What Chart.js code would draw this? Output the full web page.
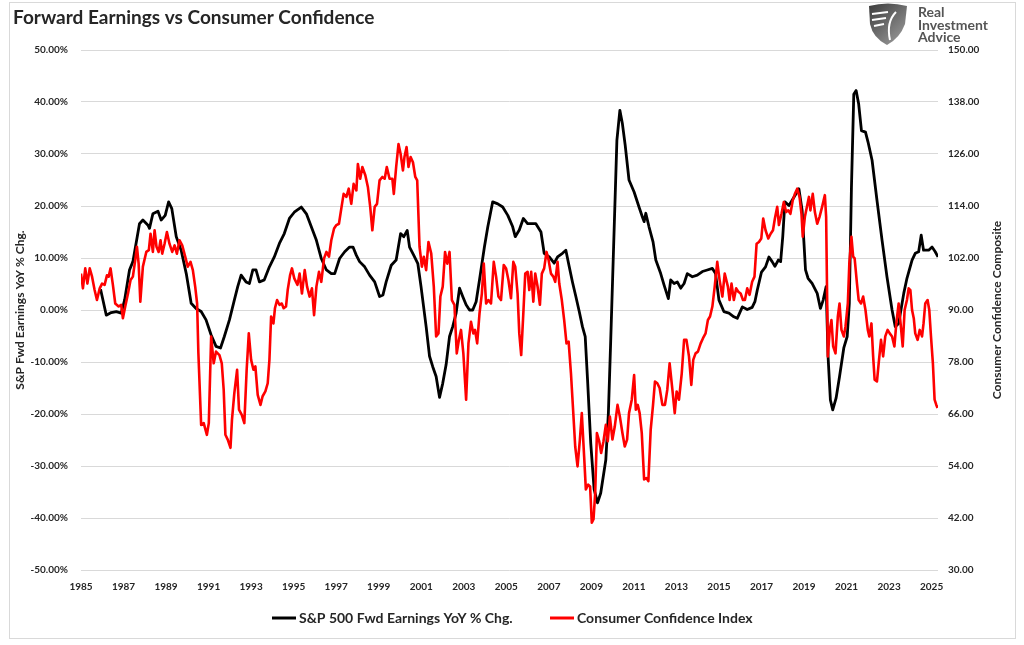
<!DOCTYPE html>
<html>
<head>
<meta charset="utf-8">
<title>Forward Earnings vs Consumer Confidence</title>
<script src="https://cdn.jsdelivr.net/npm/chart.js@4.4.1/dist/chart.umd.min.js"></script>
<style>
  html, body { margin: 0; padding: 0; background: #fff; }
  #wrap { width: 1024px; height: 645px; }
</style>
</head>
<body>
<div id="wrap"><canvas id="chart" width="1024" height="645"></canvas></div>
<script>
// S&P 500 forward earnings, YoY % change (left axis)
const earnYears = [1985.92,1986.19,1986.42,1986.66,1986.89,1987.05,1987.28,1987.44,1987.75,1987.91,1988.15,1988.22,1988.38,1988.62,1988.77,1988.96,1989.12,1989.27,1989.48,1989.71,1989.95,1990.18,1990.41,1990.65,1990.88,1991.12,1991.35,1991.56,1991.74,1991.98,1992.21,1992.37,1992.53,1992.76,1992.92,1993.08,1993.23,1993.39,1993.62,1993.86,1994.09,1994.33,1994.56,1994.8,1995.03,1995.36,1995.6,1995.83,1996.07,1996.3,1996.54,1996.77,1996.93,1997.16,1997.4,1997.63,1997.79,1997.95,1998.1,1998.34,1998.57,1998.81,1999.04,1999.2,1999.35,1999.59,1999.82,2000.03,2000.18,2000.34,2000.45,2000.65,2000.84,2000.99,2001.23,2001.39,2001.54,2001.7,2001.86,2002.01,2002.17,2002.33,2002.48,2002.64,2002.8,2002.95,2003.11,2003.27,2003.42,2003.58,2003.74,2003.97,2004.13,2004.36,2004.6,2004.83,2005.07,2005.3,2005.42,2005.61,2005.8,2006.0,2006.39,2006.63,2006.78,2007.02,2007.25,2007.41,2007.64,2007.8,2007.96,2008.11,2008.27,2008.43,2008.58,2008.71,2008.82,2008.97,2009.13,2009.29,2009.44,2009.68,2009.8,2009.91,2010.07,2010.2,2010.34,2010.46,2010.59,2010.77,2011.01,2011.24,2011.4,2011.48,2011.56,2011.71,2011.9,2012.03,2012.26,2012.42,2012.62,2012.73,2012.89,2013.04,2013.2,2013.36,2013.51,2013.75,2013.98,2014.22,2014.45,2014.69,2014.84,2015.0,2015.23,2015.47,2015.7,2015.86,2016.1,2016.33,2016.56,2016.69,2016.8,2017.0,2017.19,2017.35,2017.5,2017.63,2017.79,2017.9,2018.0,2018.1,2018.29,2018.44,2018.63,2018.76,2018.91,2018.99,2019.07,2019.19,2019.38,2019.62,2019.77,2019.9,2020.04,2020.13,2020.24,2020.35,2020.51,2020.67,2020.87,2021.03,2021.13,2021.23,2021.34,2021.45,2021.57,2021.7,2021.89,2022.01,2022.2,2022.43,2022.67,2022.9,2023.14,2023.29,2023.45,2023.69,2023.84,2024.08,2024.23,2024.39,2024.51,2024.62,2024.86,2025.02,2025.17,2025.3];
const earnValues = [4.0,-1.0,-0.5,-0.3,-0.6,1.9,7.7,9.3,16.6,17.3,16.3,15.7,18.5,19.0,17.3,18.2,20.8,19.5,14.1,11.5,7.0,1.3,0.3,-0.3,-1.9,-4.8,-7.0,-7.3,-5.1,-1.9,1.9,4.5,6.7,5.4,5.1,7.7,7.7,5.4,5.8,8.3,10.2,12.8,14.7,17.6,18.8,19.8,18.5,16.0,13.4,9.9,7.7,7.0,7.0,9.9,11.2,12.1,12.1,10.5,9.3,8.3,6.7,5.4,2.6,2.9,5.4,8.6,9.6,14.7,14.1,15.3,12.1,10.5,8.9,4.5,-3.2,-8.9,-10.9,-12.8,-16.8,-14.1,-10.5,-5.1,-3.2,-0.6,4.2,2.6,1.0,0.0,0.0,1.6,5.8,12.1,16.0,20.8,20.4,19.8,18.2,16.0,14.1,15.4,17.6,16.6,16.6,15.0,10.9,10.2,9.0,10.2,10.9,11.5,8.3,5.4,2.6,-0.3,-3.2,-5.1,-13.4,-25.6,-34.5,-37.1,-35.2,-28.8,-19.8,-5.8,15.4,32.6,38.4,35.8,31.7,25.0,22.7,19.8,17.9,17.0,18.6,16.0,13.1,9.6,7.0,4.8,2.2,5.8,5.1,5.4,4.2,5.1,7.0,6.4,6.7,7.4,7.7,8.0,7.0,1.9,-0.3,-0.6,-1.3,-1.6,0.6,0.1,0.5,1.6,3.8,7.3,8.3,10.2,9.3,8.4,9.6,9.3,14.1,20.8,20.1,21.1,22.4,23.3,19.2,13.4,7.7,6.1,5.1,3.2,0.3,1.9,4.5,-8.9,-17.3,-19.2,-16.9,-12.8,-7.3,-5.1,1.3,23.6,41.5,42.2,39.6,34.5,34.2,32.3,28.8,21.1,13.4,6.4,0.0,-3.2,-2.6,3.2,6.1,9.6,10.9,11.2,14.4,11.5,11.5,12.1,11.2,10.2];

// Consumer confidence composite (right axis)
const confYears = [1985.0,1985.09,1985.2,1985.3,1985.41,1985.52,1985.64,1985.75,1985.88,1985.99,1986.11,1986.22,1986.3,1986.39,1986.5,1986.61,1986.77,1986.89,1986.97,1987.08,1987.21,1987.33,1987.44,1987.55,1987.63,1987.71,1987.79,1987.91,1988.07,1988.19,1988.27,1988.38,1988.46,1988.55,1988.65,1988.74,1988.82,1988.93,1989.04,1989.16,1989.29,1989.4,1989.51,1989.63,1989.76,1989.9,1990.02,1990.15,1990.26,1990.37,1990.46,1990.52,1990.65,1990.77,1990.92,1991.01,1991.12,1991.24,1991.35,1991.51,1991.62,1991.71,1991.79,1991.9,1992.03,1992.1,1992.21,1992.34,1992.43,1992.56,1992.68,1992.79,1992.89,1993.0,1993.11,1993.2,1993.31,1993.44,1993.54,1993.67,1993.78,1993.86,1993.94,1994.05,1994.12,1994.22,1994.33,1994.44,1994.53,1994.64,1994.72,1994.83,1994.92,1995.03,1995.18,1995.28,1995.39,1995.52,1995.63,1995.75,1995.86,1995.96,1996.07,1996.19,1996.3,1996.43,1996.54,1996.66,1996.77,1996.9,1997.01,1997.13,1997.24,1997.35,1997.48,1997.59,1997.71,1997.82,1997.95,1998.02,1998.13,1998.23,1998.37,1998.49,1998.6,1998.7,1998.81,1998.92,1999.04,1999.17,1999.28,1999.38,1999.51,1999.64,1999.71,1999.82,1999.93,2000.03,2000.14,2000.21,2000.31,2000.4,2000.5,2000.61,2000.72,2000.81,2000.92,2001.03,2001.12,2001.23,2001.34,2001.47,2001.59,2001.7,2001.81,2001.9,2002.01,2002.12,2002.22,2002.33,2002.44,2002.56,2002.67,2002.77,2002.87,2002.98,2003.11,2003.22,2003.34,2003.45,2003.53,2003.63,2003.74,2003.85,2003.94,2004.05,2004.16,2004.28,2004.41,2004.52,2004.63,2004.75,2004.88,2004.99,2005.1,2005.22,2005.33,2005.42,2005.53,2005.61,2005.7,2005.8,2005.89,2006.0,2006.08,2006.17,2006.27,2006.36,2006.47,2006.58,2006.67,2006.78,2006.89,2006.99,2007.1,2007.21,2007.3,2007.41,2007.49,2007.61,2007.72,2007.83,2007.93,2008.04,2008.14,2008.24,2008.35,2008.46,2008.55,2008.66,2008.74,2008.85,2008.94,2009.02,2009.1,2009.18,2009.26,2009.37,2009.46,2009.57,2009.68,2009.77,2009.87,2009.99,2010.1,2010.23,2010.34,2010.46,2010.57,2010.68,2010.77,2010.9,2011.01,2011.09,2011.18,2011.27,2011.37,2011.48,2011.59,2011.68,2011.79,2011.9,2011.99,2012.1,2012.21,2012.34,2012.46,2012.57,2012.68,2012.81,2012.92,2013.01,2013.12,2013.25,2013.36,2013.47,2013.59,2013.7,2013.79,2013.9,2014.01,2014.14,2014.25,2014.37,2014.48,2014.58,2014.69,2014.8,2014.92,2015.03,2015.16,2015.27,2015.42,2015.5,2015.59,2015.7,2015.81,2015.91,2016.02,2016.13,2016.22,2016.33,2016.44,2016.56,2016.67,2016.77,2016.88,2016.99,2017.08,2017.19,2017.32,2017.43,2017.54,2017.63,2017.74,2017.82,2017.94,2018.05,2018.16,2018.26,2018.36,2018.47,2018.57,2018.68,2018.79,2018.88,2018.94,2019.04,2019.12,2019.23,2019.3,2019.41,2019.51,2019.62,2019.73,2019.85,2019.98,2020.04,2020.12,2020.21,2020.29,2020.37,2020.48,2020.59,2020.67,2020.76,2020.87,2020.95,2021.06,2021.13,2021.23,2021.31,2021.38,2021.49,2021.57,2021.68,2021.78,2021.89,2022.0,2022.07,2022.17,2022.25,2022.32,2022.43,2022.51,2022.62,2022.72,2022.82,2022.93,2023.03,2023.14,2023.25,2023.34,2023.45,2023.54,2023.64,2023.73,2023.84,2023.92,2024.0,2024.08,2024.16,2024.23,2024.34,2024.44,2024.55,2024.62,2024.7,2024.81,2024.89,2024.97,2025.06,2025.14,2025.22,2025.28];
const confValues = [98.4,95.0,99.6,96.1,99.6,97.7,94.6,92.3,95.0,96.1,95.8,98.0,97.7,99.6,95.8,91.5,90.8,91.2,88.1,90.8,93.8,96.9,97.7,101.5,104.6,100.7,91.9,100.0,103.4,103.8,107.6,103.4,108.4,104.6,103.4,106.1,103.0,105.3,108.0,105.3,103.4,104.9,103.0,106.1,104.9,102.3,100.0,101.1,99.2,95.4,91.5,80.0,63.5,63.9,61.2,63.9,83.9,77.7,80.4,79.6,77.7,71.6,61.2,60.1,58.2,64.7,70.8,76.2,67.0,65.8,63.9,76.2,84.6,78.5,76.2,77.0,70.4,68.1,70.1,71.2,73.1,78.5,88.5,86.9,90.4,92.3,91.2,91.5,90.4,90.8,94.6,98.0,99.6,97.3,95.8,98.4,93.8,99.2,95.4,93.1,95.0,88.8,95.4,98.8,96.5,101.9,103.4,102.3,106.1,108.8,109.6,109.9,113.4,116.8,116.1,118.0,114.5,119.1,117.6,123.7,120.3,123.0,121.1,118.4,113.8,108.4,113.8,114.5,119.9,120.7,120.3,123.0,120.3,120.3,116.8,123.0,128.3,126.0,122.2,125.3,127.6,123.0,125.3,124.1,120.7,119.9,104.6,100.0,102.3,99.2,105.7,103.0,95.4,83.9,84.6,93.1,95.4,103.4,100.7,103.4,92.3,91.2,80.0,83.1,85.4,80.0,69.3,82.3,87.3,84.6,85.4,82.3,89.2,93.8,100.7,91.5,92.3,91.5,101.1,97.7,93.1,92.3,100.4,99.6,96.9,92.7,101.1,100.0,93.8,84.6,79.6,89.2,98.4,98.8,94.6,98.8,91.9,98.4,95.4,91.2,98.4,99.6,103.4,101.5,98.4,97.7,96.5,101.1,96.1,92.3,87.7,82.3,82.7,75.4,67.0,58.5,53.9,60.1,66.2,56.2,48.6,49.7,49.3,40.9,41.7,47.8,61.6,59.7,57.0,59.7,63.5,59.7,65.4,60.1,63.1,68.1,65.4,61.6,58.5,60.1,66.2,69.3,75.0,67.0,68.1,66.2,61.6,50.9,51.2,50.5,62.4,68.1,73.5,73.1,72.0,68.1,68.1,71.6,77.7,71.6,66.2,71.2,69.3,75.4,83.1,83.1,79.3,72.7,78.5,80.0,80.4,82.3,83.5,84.6,87.7,88.5,90.8,95.4,101.1,96.9,93.1,98.4,95.4,92.3,96.1,92.3,95.0,94.2,93.8,92.3,92.3,95.0,93.5,96.5,97.7,105.3,105.7,106.5,111.1,108.4,106.5,107.6,108.4,111.1,113.8,109.6,112.2,114.9,112.6,113.0,112.2,115.3,116.8,118.0,116.1,112.2,106.9,111.5,113.4,116.1,113.0,116.8,112.6,109.9,111.5,113.8,116.5,111.5,79.3,85.4,87.7,81.6,80.0,88.5,91.5,85.4,83.9,86.2,91.5,100.7,106.9,102.3,101.9,96.1,92.3,91.5,93.1,90.0,85.4,83.9,86.9,79.3,73.9,73.5,77.7,83.1,79.3,83.9,85.4,84.6,83.9,81.6,86.9,91.5,86.9,81.6,90.0,92.3,95.0,94.6,90.0,88.1,84.6,83.1,85.4,83.9,86.9,91.5,92.3,90.0,83.9,77.7,69.3,68.1,67.4];

// x-axis labels every two years
const yearTicks = [1985,1987,1989,1991,1993,1995,1997,1999,2001,2003,2005,2007,2009,2011,2013,2015,2017,2019,2021,2023,2025];

const FONT = 'Lato, "Open Sans", sans-serif';
const INK = '#262626';

const toPoints = (xs, ys) => xs.map((x, i) => ({ x: x, y: ys[i] }));

// title, logo, axis titles, legend and frame drawn straight onto the canvas
const decor = {
  id: 'decor',
  beforeDraw(chart) {
    const ctx = chart.ctx;
    ctx.save();
    ctx.fillStyle = '#fff';
    ctx.fillRect(0, 0, chart.width, chart.height);
    ctx.strokeStyle = '#d9d9d9';
    ctx.lineWidth = 1;
    ctx.strokeRect(9.5, 2.5, 1006, 636);
    ctx.restore();
  },
  afterDraw(chart) {
    const ctx = chart.ctx;
    ctx.save();

    // title
    ctx.fillStyle = INK;
    ctx.font = 'bold 19px ' + FONT;
    ctx.textBaseline = 'middle';
    ctx.textAlign = 'left';
    ctx.fillText('Forward Earnings vs Consumer Confidence', 13, 18);

    // logo shield
    const g = ctx.createLinearGradient(868, 4, 906, 44);
    g.addColorStop(0, '#3a3a3a');
    g.addColorStop(1, '#a0a0a0');
    ctx.fillStyle = g;
    ctx.beginPath();
    ctx.moveTo(869, 6);
    ctx.quadraticCurveTo(888, 1, 907, 6);
    ctx.lineTo(905, 24);
    ctx.quadraticCurveTo(900, 38, 887, 45);
    ctx.quadraticCurveTo(873, 38, 870, 24);
    ctx.closePath();
    ctx.fill();
    ctx.strokeStyle = '#fff';
    ctx.lineWidth = 2;
    ctx.beginPath();
    ctx.moveTo(872, 14); ctx.lineTo(888, 12);
    ctx.moveTo(872, 20); ctx.lineTo(886, 18);
    ctx.moveTo(874, 26); ctx.lineTo(884, 24);
    ctx.moveTo(896, 12); ctx.quadraticCurveTo(886, 22, 890, 40);
    ctx.stroke();

    ctx.fillStyle = '#555555';
    ctx.font = 'bold 14px ' + FONT;
    ctx.textBaseline = 'alphabetic';
    ctx.fillText('Real', 918, 17);
    ctx.fillText('Investment', 918, 30);
    ctx.fillText('Advice', 918, 42);

    // axis titles
    ctx.fillStyle = INK;
    ctx.font = 'bold 12px ' + FONT;
    ctx.textAlign = 'center';
    ctx.textBaseline = 'middle';
    ctx.save();
    ctx.translate(20, 310);
    ctx.rotate(-Math.PI / 2);
    ctx.fillText('S&P Fwd Earnings YoY % Chg.', 0, 0);
    ctx.restore();
    ctx.save();
    ctx.translate(997, 310);
    ctx.rotate(-Math.PI / 2);
    ctx.fillText('Consumer Confidence Composite', 0, 0);
    ctx.restore();

    // legend
    const items = [
      { x: 272, color: '#000000', label: 'S&P 500 Fwd Earnings YoY % Chg.' },
      { x: 550, color: '#ff0000', label: 'Consumer Confidence Index' }
    ];
    ctx.font = 'bold 14px ' + FONT;
    ctx.textAlign = 'left';
    items.forEach(it => {
      ctx.strokeStyle = it.color;
      ctx.lineWidth = 3;
      ctx.beginPath();
      ctx.moveTo(it.x, 618);
      ctx.lineTo(it.x + 24, 618);
      ctx.stroke();
      ctx.fillStyle = INK;
      ctx.fillText(it.label, it.x + 27, 618);
    });

    ctx.restore();
  }
};

new Chart(document.getElementById('chart'), {
  type: 'line',
  data: {
    datasets: [
      {
        label: 'S&P 500 Fwd Earnings YoY % Chg.',
        data: toPoints(earnYears, earnValues),
        yAxisID: 'yLeft',
        borderColor: '#000000',
        borderWidth: 2.8,
        pointRadius: 0,
        tension: 0,
        borderJoinStyle: 'round',
        order: 2
      },
      {
        label: 'Consumer Confidence Index',
        data: toPoints(confYears, confValues),
        yAxisID: 'yRight',
        borderColor: '#ff0000',
        borderWidth: 2.6,
        pointRadius: 0,
        tension: 0,
        borderJoinStyle: 'round',
        order: 1
      }
    ]
  },
  options: {
    responsive: false,
    animation: false,
    layout: { padding: { top: 50, left: 0, right: 0, bottom: 0 } },
    plugins: {
      legend: { display: false },
      title: { display: false },
      tooltip: { enabled: false }
    },
    scales: {
      x: {
        type: 'linear',
        min: 1985,
        max: 2025.3,
        afterBuildTicks: s => { s.ticks = yearTicks.map(v => ({ value: v })); },
        afterFit: s => { s.height = 75; },
        grid: { display: false, drawTicks: false },
        border: { display: false },
        ticks: {
          autoSkip: false,
          maxRotation: 0,
          padding: 11,
          color: INK,
          font: { family: FONT, size: 10, weight: 'bold' },
          callback: v => String(v)
        }
      },
      yLeft: {
        position: 'left',
        min: -50,
        max: 50,
        afterFit: s => { s.width = 81; },
        grid: { color: '#d9d9d9', lineWidth: 1, drawTicks: false },
        border: { display: false },
        ticks: {
          stepSize: 10,
          padding: 13,
          color: INK,
          font: { family: FONT, size: 10, weight: 'bold' },
          callback: v => v.toFixed(2) + '%'
        }
      },
      yRight: {
        position: 'right',
        min: 30,
        max: 150,
        afterFit: s => { s.width = 86; },
        grid: { display: false, drawTicks: false },
        border: { display: false },
        ticks: {
          stepSize: 12,
          padding: 10,
          color: INK,
          font: { family: FONT, size: 10, weight: 'bold' },
          callback: v => v.toFixed(2)
        }
      }
    }
  },
  plugins: [decor]
});
</script>
</body>
</html>
